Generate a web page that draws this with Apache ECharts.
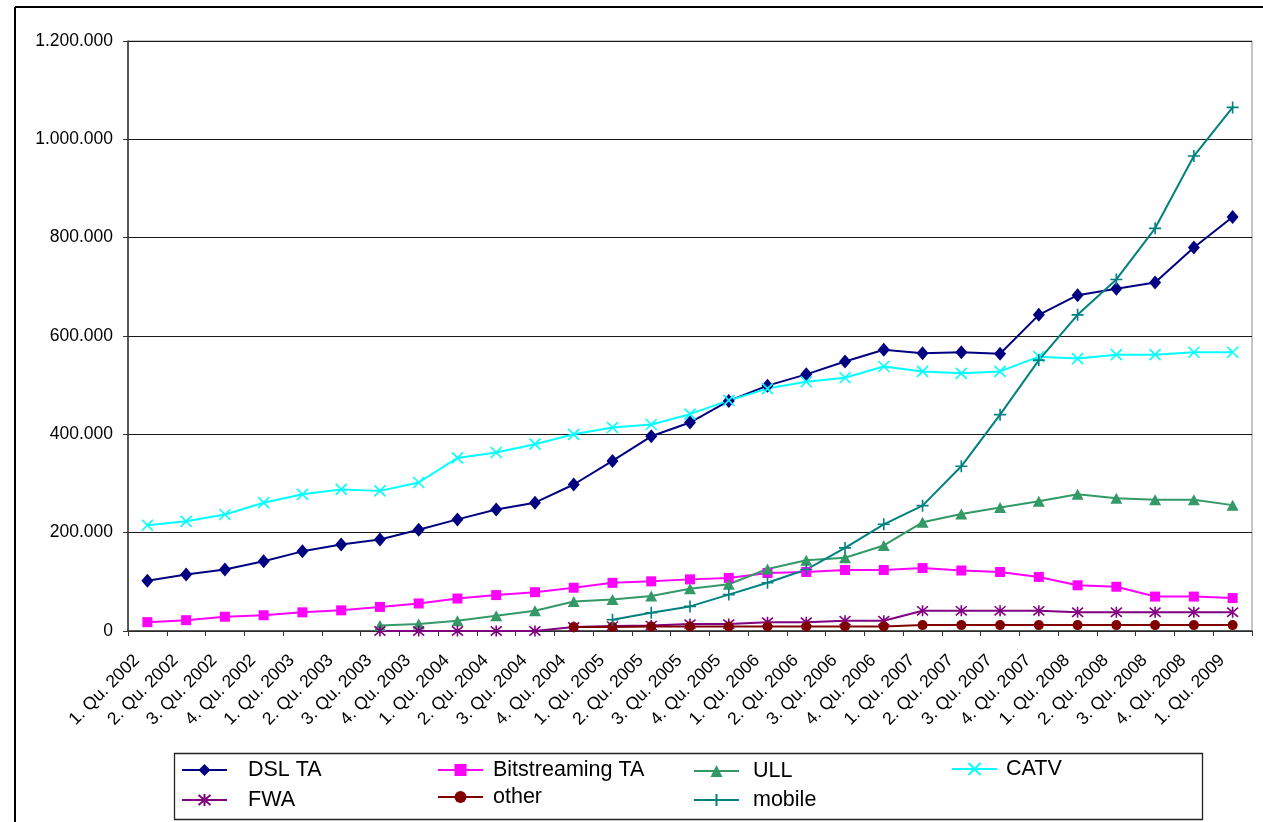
<!DOCTYPE html>
<html>
<head>
<meta charset="utf-8">
<title>Broadband lines</title>
<script src="https://cdn.jsdelivr.net/npm/echarts@6/dist/echarts.min.js"></script>
<style>
  html, body { margin: 0; padding: 0; background: #fff; }
  #chart { width: 1263px; height: 822px; }
</style>
</head>
<body>
<div id="chart"></div>
<script>
// quarters on the x axis
const categories = [
  '1. Qu. 2002', '2. Qu. 2002', '3. Qu. 2002', '4. Qu. 2002',
  '1. Qu. 2003', '2. Qu. 2003', '3. Qu. 2003', '4. Qu. 2003',
  '1. Qu. 2004', '2. Qu. 2004', '3. Qu. 2004', '4. Qu. 2004',
  '1. Qu. 2005', '2. Qu. 2005', '3. Qu. 2005', '4. Qu. 2005',
  '1. Qu. 2006', '2. Qu. 2006', '3. Qu. 2006', '4. Qu. 2006',
  '1. Qu. 2007', '2. Qu. 2007', '3. Qu. 2007', '4. Qu. 2007',
  '1. Qu. 2008', '2. Qu. 2008', '3. Qu. 2008', '4. Qu. 2008',
  '1. Qu. 2009'
];

const yTicks = [0, 200000, 400000, 600000, 800000, 1000000, 1200000];

// values (null = no value in that quarter)
const dslTA = [102000, 115000, 125000, 142000, 162000, 176000, 186000, 206000,
  227000, 247000, 261000, 298000, 346000, 396000, 424000, 468000,
  499000, 522000, 548000, 572000, 565000, 567000, 564000, 643000,
  683000, 696000, 709000, 780000, 842000];

const bitstreamingTA = [18000, 22000, 29000, 32000, 38000, 42000, 49000, 56000,
  66000, 73000, 79000, 88000, 98000, 101000, 105000, 108000,
  118000, 120000, 124000, 124000, 128000, 123000, 120000, 110000,
  93000, 90000, 70000, 70000, 67000];

const ull = [null, null, null, null, null, null, 11000, 14000,
  21000, 31000, 41000, 60000, 64000, 71000, 86000, 95000,
  126000, 144000, 149000, 174000, 221000, 238000, 251000, 264000,
  278000, 270000, 267000, 267000, 256000];

const catv = [215000, 223000, 237000, 261000, 278000, 288000, 285000, 302000,
  352000, 363000, 380000, 400000, 414000, 420000, 441000, 469000,
  493000, 507000, 515000, 538000, 528000, 524000, 528000, 558000,
  554000, 562000, 562000, 567000, 567000];

const fwa = [null, null, null, null, null, null, 0, 0,
  0, 0, 0, 8000, 10000, 11000, 14000, 14000,
  18000, 18000, 21000, 21000, 41000, 41000, 41000, 41000,
  38000, 38000, 38000, 38000, 38000];

const other = [null, null, null, null, null, null, null, null,
  null, null, null, 8000, 8000, 9000, 9000, 9000,
  9000, 9000, 9000, 9000, 12000, 12000, 12000, 12000,
  12000, 12000, 12000, 12000, 12000];

const mobile = [null, null, null, null, null, null, null, null,
  null, null, null, null, 23000, 37000, 50000, 74000,
  98000, 125000, 169000, 217000, 255000, 335000, 440000, 551000,
  643000, 715000, 819000, 966000, 1065000];

const FONT = 'Liberation Sans, Arial, sans-serif';

// marker shapes drawn as strokes
const X_MARK = 'path://M0,0L10,10M10,0L0,10';
const STAR_MARK = 'path://M0,0L10,10M10,0L0,10M5,-1L5,11';
const PLUS_MARK = 'path://M5,0L5,10M0,5L10,5';

function lineSeries(name, data, color, symbol, size, stroked) {
  return {
    name: name,
    type: 'line',
    data: data,
    symbol: symbol,
    symbolSize: size,
    showAllSymbol: true,
    connectNulls: false,
    lineStyle: { color: color, width: 2 },
    itemStyle: stroked
      ? { color: 'rgba(0,0,0,0)', borderColor: color, borderWidth: 1.6 }
      : { color: color, borderColor: color, borderWidth: 0 },
    emphasis: { disabled: true }
  };
}

// legend slots: [name, icon left, row center y, text padding]
const legendSlots = [
  ['DSL TA', 181, 771, 16],
  ['Bitstreaming TA', 437, 771, 5],
  ['ULL', 693, 772, 9],
  ['CATV', 951, 770, 4],
  ['FWA', 181, 801, 16],
  ['other', 437, 798, 5],
  ['mobile', 693, 801, 9]
];

const chart = echarts.init(document.getElementById('chart'));

chart.setOption({
  animation: false,
  backgroundColor: '#fff',
  textStyle: { fontFamily: FONT },
  grid: {
    left: 128, top: 41, right: 11, bottom: 191,
    show: true, borderColor: '#8c8c8c', borderWidth: 1
  },
  legend: legendSlots.map(s => ({
    data: [s[0]],
    left: s[1],
    top: s[2] - 12,
    padding: 0,
    itemWidth: 45,
    itemHeight: 15,
    selectedMode: false,
    textStyle: { fontSize: 21.5, color: '#000', fontFamily: FONT, padding: [0, 0, 0, s[3]] }
  })),
  xAxis: {
    type: 'category',
    data: categories,
    boundaryGap: true,
    axisLine: { lineStyle: { color: '#333', width: 1.5 } },
    axisTick: { show: true, length: 5, lineStyle: { color: '#333' } },
    axisLabel: {
      rotate: 45, interval: 0, margin: 16,
      padding: [0, 15, 0, 0],
      fontSize: 17.5, color: '#000', fontFamily: FONT
    },
    splitLine: { show: false }
  },
  yAxis: {
    type: 'value',
    min: yTicks[0],
    max: yTicks[yTicks.length - 1],
    interval: yTicks[1] - yTicks[0],
    axisLine: { show: true, lineStyle: { color: '#333', width: 1.5 } },
    axisTick: { show: true, length: 5, lineStyle: { color: '#333' } },
    axisLabel: {
      margin: 15, fontSize: 17.5, color: '#000', fontFamily: FONT,
      formatter: v => String(v).replace(/\B(?=(\d{3})+(?!\d))/g, '.')
    },
    splitLine: { show: true, lineStyle: { color: '#1a1a1a', width: 1 } }
  },
  graphic: [
    // outer chart frame (top and left edges visible)
    { type: 'line', shape: { x1: 15, y1: 7, x2: 1263, y2: 7 }, style: { stroke: '#000', lineWidth: 2 }, silent: true },
    { type: 'line', shape: { x1: 15, y1: 7, x2: 15, y2: 822 }, style: { stroke: '#000', lineWidth: 2 }, silent: true },
    // legend box
    { type: 'rect', shape: { x: 174.5, y: 753.5, width: 1028, height: 66 }, style: { fill: 'none', stroke: '#222', lineWidth: 1.3 }, silent: true, z: -1 }
  ],
  series: [
    lineSeries('DSL TA', dslTA, '#000080', 'diamond', [12, 14], false),
    lineSeries('Bitstreaming TA', bitstreamingTA, '#ff00ff', 'rect', 10, false),
    lineSeries('ULL', ull, '#339966', 'triangle', [12, 11], false),
    lineSeries('CATV', catv, '#00ffff', X_MARK, 11, true),
    lineSeries('FWA', fwa, '#800080', STAR_MARK, 11, true),
    lineSeries('other', other, '#800000', 'circle', 10, false),
    lineSeries('mobile', mobile, '#008080', PLUS_MARK, 12, true)
  ]
});
</script>
</body>
</html>
